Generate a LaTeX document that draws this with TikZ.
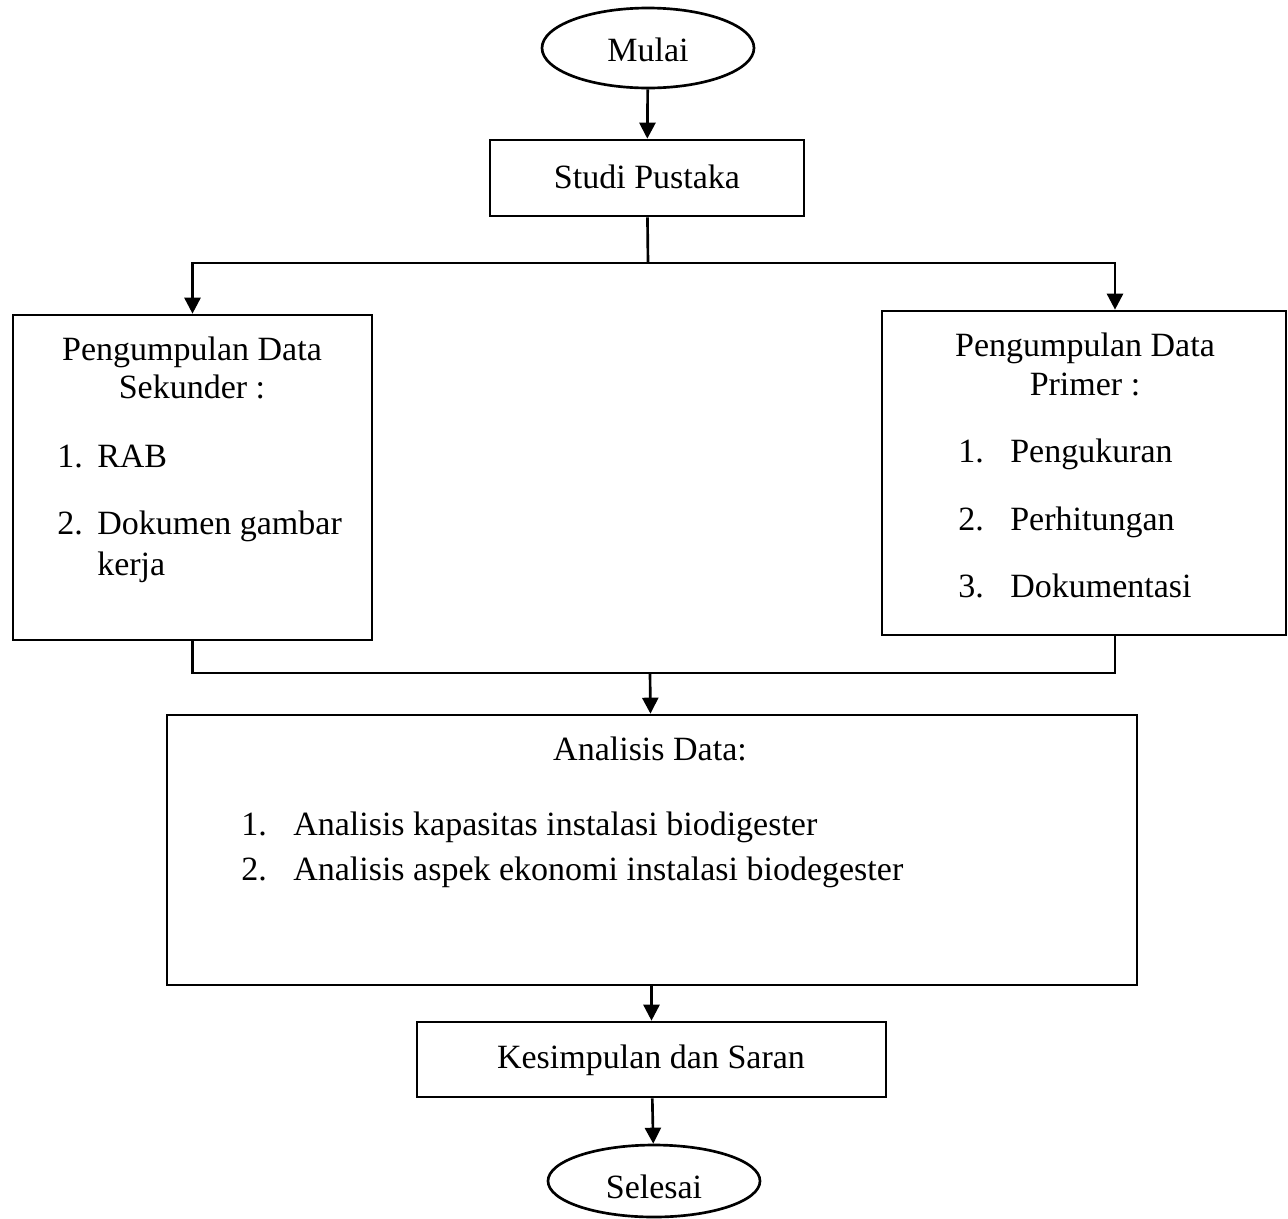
\documentclass[tikz,border=0pt]{standalone}
\usepackage{fontspec}
\setmainfont{Liberation Serif}
\usetikzlibrary{arrows.meta,shapes.geometric}

\begin{document}
\begin{tikzpicture}[x=0.75pt,y=0.75pt,yscale=-1,xscale=1,
  every node/.style={font=\fontsize{25.5}{29.5}\selectfont},
  box/.style={draw,line width=2pt,inner sep=0pt,anchor=center},
  terminal/.style={draw,ellipse,line width=2pt,inner sep=0pt,anchor=center},
  txt/.style={inner sep=0pt,anchor=base west},
  ttl/.style={inner sep=0pt,anchor=base},
  link/.style={line width=2pt},
  flow/.style={line width=2pt,-{Triangle[length=12pt,width=12pt]}}]
\useasboundingbox (0,0) rectangle (1288,1218);

% Terminal Mulai
\node [terminal,minimum width=159pt,minimum height=60pt] (mulai) at (648,48) {};
\node [ttl] (mulaiT) at (648,61) {Mulai};
% Studi Pustaka
\node [box,minimum width=235.5pt,minimum height=57pt] (studi) at (647,178) {};
\node [ttl] (studiT) at (647,188) {Studi Pustaka};

% Data Sekunder
\node [box,minimum width=269.25pt,minimum height=243.75pt] (sek) at (192.5,477.5) {};
\node [ttl] (sekT1) at (192,360) {Pengumpulan Data};
\node [ttl] (sekT2) at (192,398) {Sekunder :};
\node [txt] (sekN1) at (57,467) {1.};
\node [txt] (sekI1) at (97,467) {RAB};
\node [txt] (sekN2) at (57,534) {2.};
\node [txt] (sekI2) at (97,534) {Dokumen gambar};
\node [txt] (sekI3) at (97,575) {kerja};

% Data Primer
\node [box,minimum width=303pt,minimum height=243pt] (pri) at (1084,473) {};
\node [ttl] (priT1) at (1085,356) {Pengumpulan Data};
\node [ttl] (priT2) at (1085,395) {Primer :};
\node [txt] (priN1) at (958,462) {1.};
\node [txt] (priI1) at (1010,462) {Pengukuran};
\node [txt] (priN2) at (958,530) {2.};
\node [txt] (priI2) at (1010,530) {Perhitungan};
\node [txt] (priN3) at (958,597) {3.};
\node [txt] (priI3) at (1010,597) {Dokumentasi};

% Analisis Data
\node [box,minimum width=727.5pt,minimum height=202.5pt] (ana) at (652,850) {};
\node [ttl] (anaT) at (650,760) {Analisis Data:};
\node [txt] (anaN1) at (241,835) {1.};
\node [txt] (anaI1) at (293,835) {Analisis kapasitas instalasi biodigester};
\node [txt] (anaN2) at (241,880) {2.};
\node [txt] (anaI2) at (293,880) {Analisis aspek ekonomi instalasi biodegester};

% Kesimpulan dan Saran
\node [box,minimum width=351.75pt,minimum height=56.25pt] (kes) at (651.5,1059.5) {};
\node [ttl] (kesT) at (651,1068) {Kesimpulan dan Saran};
% Terminal Selesai
\node [terminal,minimum width=159pt,minimum height=54pt] (sel) at (654,1181) {};
\node [ttl] (selT) at (654,1198) {Selesai};

% Connectors
\coordinate (split) at (648,263);
\coordinate (splitR) at (1115,263);
\coordinate (join) at (650,673);
\coordinate (joinR) at (1115,673);
\draw [flow] (mulai) -- (studi);
\draw [link] (studi) -- (split);
\draw [flow] (split) -| (sek.north);
\draw [flow] (split) -- (splitR) -- (splitR |- pri.north);
\draw [link] (sek.south) |- (joinR) -- (joinR |- pri.south);
\draw [flow] (join) -- (ana);
\draw [flow] (ana.south -| kes.north) -- (kes);
\draw [flow] (kes) -- (sel);

\end{tikzpicture}
\end{document}
